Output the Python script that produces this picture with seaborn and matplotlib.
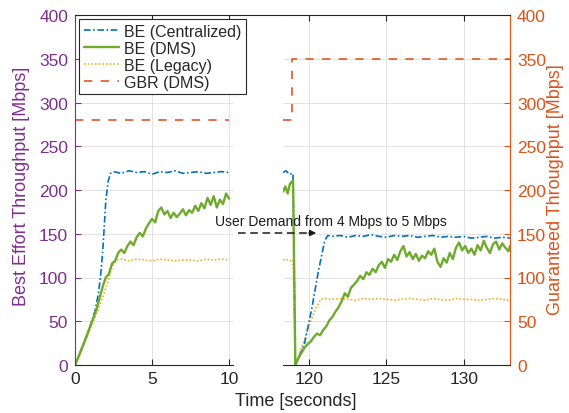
import matplotlib
matplotlib.use("Agg")
import matplotlib.pyplot as plt
from matplotlib.lines import Line2D
import seaborn as sns

# ---------------- data ----------------
# left panel (0 .. 10 s)
t_cen_L = [0, 0.5, 1.0, 1.3, 1.5, 1.65, 1.8, 2.0, 2.15, 2.3, 2.5, 3.0, 3.5, 4.0, 4.5, 5.0,
           5.5, 6.0, 6.5, 7.0, 7.5, 8.0, 8.5, 9.0, 9.5, 10.0]
v_cen_L = [0, 22, 45, 62, 80, 100, 130, 188, 210, 219, 221, 219, 222, 220, 221, 218,
           221, 220, 222, 219, 220, 221, 219, 220, 221, 220]

t_dms_L = [0.0, 0.2, 0.4, 0.6, 0.8, 1.0, 1.2, 1.4, 1.6, 1.8, 2.0, 2.2, 2.4, 2.6, 2.8, 3.0,
           3.2, 3.4, 3.6, 3.8, 4.0, 4.2, 4.4, 4.6, 4.8, 5.0, 5.2, 5.4, 5.6, 5.8, 6.0, 6.2,
           6.4, 6.6, 6.8, 7.0, 7.2, 7.4, 7.6, 7.8, 8.0, 8.2, 8.4, 8.6, 8.8, 9.0, 9.2, 9.4,
           9.6, 9.8, 10.0]
v_dms_L = [0, 8, 17, 26, 35, 45, 54, 64, 77, 90, 100, 104, 116, 119, 128, 132,
           128, 136, 141, 137, 146, 151, 147, 156, 162, 167, 163, 176, 180, 172, 176, 168,
           174, 169, 173, 178, 171, 177, 174, 182, 176, 185, 179, 191, 183, 193, 180, 189,
           184, 196, 190]

t_leg_L = [0, 0.5, 1.0, 1.5, 2.0, 2.2, 2.4, 2.7, 3.0, 3.5, 4.0, 4.5, 5.0, 5.5, 6.0, 6.5,
           7.0, 7.5, 8.0, 8.5, 9.0, 9.5, 10.0]
v_leg_L = [0, 20, 42, 63, 88, 99, 112, 120, 121, 119, 121, 120, 119, 121, 120, 119,
           120, 120, 119, 121, 120, 121, 120]

t_gbr_L = [0, 10.0]
v_gbr_L = [280, 280]

# right panel (after the demand change)
t_cen_R = [118.3, 118.5, 118.7, 118.95, 119.1, 119.4, 119.7, 120.2, 120.6, 121.0, 121.2,
           121.5, 122.0, 122.5, 123.0, 123.5, 124.0, 124.5, 125.0, 125.5, 126.0, 126.5,
           127.0, 127.5, 128.0, 128.5, 129.0, 129.5, 130.0, 130.5, 131.0, 131.5, 132.0,
           132.5, 133.0]
v_cen_R = [220, 222, 218, 219, 0, 12, 25, 68, 108, 142, 148,
           147, 148, 146, 148, 147, 149, 147, 146, 148, 147, 148,
           146, 147, 148, 146, 147, 146, 147, 145, 146, 147, 145,
           146, 145]

t_dms_R = [118.3, 118.45, 118.6, 118.75, 118.95, 119.1, 119.3, 119.5, 119.7, 119.9, 120.1,
           120.3, 120.5, 120.7, 120.9, 121.1, 121.3, 121.5, 121.7, 121.9, 122.1, 122.3,
           122.5, 122.7, 122.9, 123.1, 123.3, 123.5, 123.7, 123.9, 124.1, 124.3, 124.5,
           124.7, 124.9, 125.1, 125.3, 125.5, 125.7, 125.9, 126.1, 126.3, 126.5, 126.7,
           126.9, 127.1, 127.3, 127.5, 127.7, 127.9, 128.1, 128.3, 128.5, 128.7, 128.9,
           129.1, 129.3, 129.5, 129.7, 129.9, 130.1, 130.3, 130.5, 130.7, 130.9, 131.1,
           131.3, 131.5, 131.7, 131.9, 132.1, 132.3, 132.5, 132.7, 132.9, 133.0]
v_dms_R = [198, 204, 196, 207, 211, 0, 8, 14, 20, 24, 27,
           32, 36, 34, 40, 44, 51, 55, 61, 66, 73, 82,
           78, 88, 92, 96, 102, 98, 106, 103, 110, 106, 114,
           118, 111, 121, 118, 126, 120, 130, 136, 124, 129, 121,
           127, 119, 125, 122, 130, 126, 133, 118, 112, 122, 117,
           128, 121, 134, 140, 131, 136, 128, 133, 126, 137, 131,
           142, 134, 128, 138, 141, 132, 139, 134, 130, 136]

t_leg_R = [118.3, 118.5, 118.7, 118.95, 119.1, 119.6, 120.0, 120.4, 120.75, 121.0, 121.5,
           122.0, 122.5, 123.0, 123.5, 124.0, 124.5, 125.0, 125.5, 126.0, 126.5, 127.0,
           127.5, 128.0, 128.5, 129.0, 129.5, 130.0, 130.5, 131.0, 131.5, 132.0, 132.5,
           133.0]
v_leg_R = [120, 121, 119, 120, 0, 25, 45, 64, 75, 76, 75,
           76, 75, 74, 76, 75, 76, 75, 74, 75, 76, 75,
           74, 76, 75, 74, 76, 75, 75, 74, 75, 76, 75,
           74]

t_gbr_R = [118.3, 118.9, 118.9, 133.0]
v_gbr_R = [280, 280, 350, 350]

series_labels = ["BE (Centralized)", "BE (DMS)", "BE (Legacy)", "GBR (DMS)"]
x_ticks_L = [0, 5, 10]
x_ticks_R = [120, 125, 130]
y_ticks = [0, 50, 100, 150, 200, 250, 300, 350, 400]

# ---------------- style ----------------
sns.set_theme(style="white")
plt.rcParams['font.family'] = ['Liberation Sans', 'DejaVu Sans']

C_BLUE = '#0072BD'
C_GREEN = '#6FAA2C'
C_YEL = '#EDB120'
C_RED = '#E0562A'
C_PURP = '#7E2F8E'
C_ORNG = '#D95319'

styles = [
    dict(color=C_BLUE, linewidth=1.2, linestyle=(0, (4, 1.5, 1, 1.5))),
    dict(color=C_GREEN, linewidth=1.7, linestyle='-'),
    dict(color=C_YEL, linewidth=1.2, linestyle=(0, (1, 1.2))),
    dict(color=C_RED, linewidth=1.2, linestyle=(0, (5, 5))),
]

W, H = 569, 414
fig = plt.figure(figsize=(W / 100, H / 100), dpi=100)


def rect(x0, x1, y0, y1):
    return [x0 / W, 1 - y1 / H, (x1 - x0) / W, (y1 - y0) / H]


axL = fig.add_axes(rect(75, 233, 16, 366))
axR = fig.add_axes(rect(283, 510, 16, 366))

left_data = [(t_cen_L, v_cen_L), (t_dms_L, v_dms_L), (t_leg_L, v_leg_L), (t_gbr_L, v_gbr_L)]
right_data = [(t_cen_R, v_cen_R), (t_dms_R, v_dms_R), (t_leg_R, v_leg_R), (t_gbr_R, v_gbr_R)]
order = [2, 0, 1, 3]  # draw legacy first, then centralized, DMS on top
for ax, data in ((axL, left_data), (axR, right_data)):
    for i in order:
        t, v = data[i]
        sns.lineplot(x=t, y=v, ax=ax, estimator=None, sort=False, legend=False, **styles[i])

TICK_FS = 12.5
for ax in (axL, axR):
    ax.set_ylim(0, 400)
    ax.set_yticks(y_ticks)
    ax.grid(True, color='#dedede', linewidth=0.6)
    ax.set_axisbelow(True)
    ax.set_xlabel('')
    ax.set_ylabel('')
    for s in ax.spines.values():
        s.set_linewidth(0.8)
        s.set_color('#262626')
    ax.tick_params(axis='x', direction='in', length=4, width=0.8, top=True, bottom=True,
                   labelsize=TICK_FS, colors='#262626', pad=4)

axL.set_xlim(0, 10.25)
axL.set_xticks(x_ticks_L)
axL.spines['right'].set_visible(False)
axL.spines['left'].set_color(C_PURP)
axL.tick_params(axis='y', direction='in', length=4, width=0.8, left=True, right=False,
                labelsize=TICK_FS, colors=C_PURP, pad=5)

axR.set_xlim(118.3, 133.0)
axR.set_xticks(x_ticks_R)
axR.spines['left'].set_visible(False)
axR.spines['right'].set_color(C_ORNG)
axR.yaxis.tick_right()
axR.tick_params(axis='y', direction='in', length=4, width=0.8, left=False, right=True,
                labelsize=TICK_FS, colors=C_ORNG, pad=5)

# continuous top border over the axis break
fig.add_artist(Line2D([233 / W, 283 / W], [1 - 16 / H, 1 - 16 / H], color='#262626',
                      linewidth=0.8, transform=fig.transFigure))

# axis labels
fig.text(22 / W, 1 - 186 / H, 'Best Effort Throughput [Mbps]', rotation=90, color=C_PURP,
         fontsize=13, ha='center', va='center')
fig.text(556 / W, 1 - 190 / H, 'Guaranteed Throughput [Mbps]', rotation=90, color=C_ORNG,
         fontsize=13, ha='center', va='center')
fig.text(296 / W, 1 - 402 / H, 'Time [seconds]', color='#262626', fontsize=13,
         ha='center', va='center')

# legend
handles = [Line2D([], [], **styles[i]) for i in range(4)]
leg = fig.legend(handles, series_labels, loc='upper left',
                 bbox_to_anchor=(79 / W, 1 - 20 / H), bbox_transform=fig.transFigure,
                 fontsize=11.5, frameon=True, fancybox=False, framealpha=1,
                 edgecolor='#262626', borderpad=0.3, handlelength=2.2,
                 handletextpad=0.3, labelspacing=0.12, borderaxespad=0)
leg.get_frame().set_linewidth(0.8)
for txt in leg.get_texts():
    txt.set_color('#262626')

# annotation: user demand change
fig.text(331 / W, 1 - 222 / H, 'User Demand from 4 Mbps to 5 Mbps', fontsize=10,
         color='#1a1a1a', ha='center', va='center')
fig.add_artist(Line2D([238 / W, 310 / W], [1 - 234 / H, 1 - 234 / H], color='#1a1a1a',
                      linewidth=1.1, linestyle=(0, (5, 3)), transform=fig.transFigure))
fig.add_artist(matplotlib.patches.FancyArrowPatch(
    (306 / W, 1 - 234 / H), (319 / W, 1 - 234 / H), transform=fig.transFigure,
    arrowstyle='-|>', mutation_scale=9, color='#1a1a1a', linewidth=1.0))

fig.savefig('out.png', dpi=100)
